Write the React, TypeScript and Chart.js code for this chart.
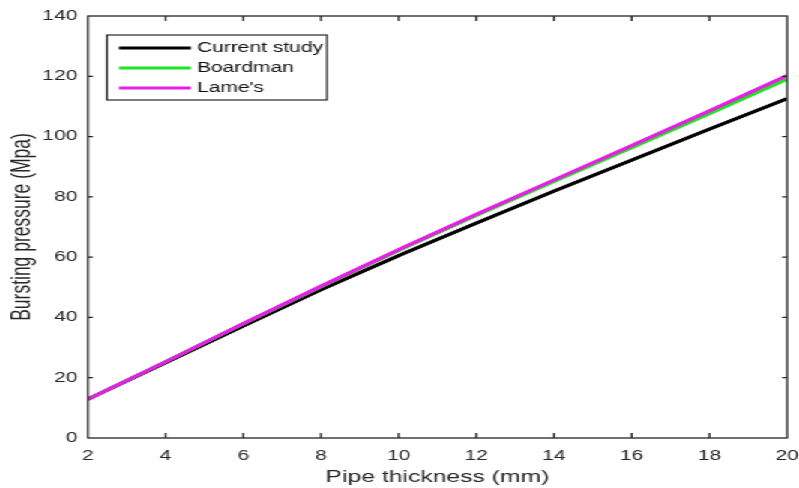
import React, { useEffect, useRef } from "react";
import { Chart, registerables } from "chart.js";

Chart.register(...registerables);

// Pipe thickness (mm) and bursting pressure (MPa) for each method
const thickness = [2, 4, 6, 8, 10, 12, 14, 16, 18, 20];
const currentStudy = [12.9, 25.0, 37.2, 49.2, 60.5, 71.3, 81.9, 92.2, 102.5, 112.6];
const boardman = [12.9, 25.3, 37.9, 50.2, 62.2, 73.8, 85.1, 96.3, 107.6, 119.1];
const lames = [12.9, 25.3, 38.0, 50.4, 62.5, 74.2, 85.6, 97.0, 108.5, 120.2];

const seriesNames = ["Current study", "Boardman", "Lame's"];
const seriesColors = ["#000000", "#1ee61e", "#e61ee6"];

const xTickValues = [2, 4, 6, 8, 10, 12, 14, 16, 18, 20];
const yTickValues = [0, 20, 40, 60, 80, 100, 120, 140];

const xTitle = "Pipe thickness (mm)";
const yTitle = "Bursting pressure (Mpa)";

// The figure is laid out on a narrower canvas and widened horizontally.
const BASE_W = 533;
const BASE_H = 488;
const SX = 799 / BASE_W;

const FONT = "'Liberation Sans', Arial, Helvetica, sans-serif";
const AXIS_COLOR = "#262626";

// Box around the plot area with inward tick marks on all four sides
const framePlugin = {
  id: "frameBox",
  afterDatasetsDraw(chart: any) {
    const { ctx, chartArea: a, scales } = chart;
    ctx.save();
    ctx.strokeStyle = AXIS_COLOR;
    ctx.lineWidth = 1.3;
    ctx.strokeRect(a.left, a.top, a.right - a.left, a.bottom - a.top);
    const lenV = 5;
    const lenH = 5 / SX;
    ctx.beginPath();
    for (const t of scales.x.ticks) {
      const px = scales.x.getPixelForValue(t.value);
      if (px <= a.left + 1 || px >= a.right - 1) continue;
      ctx.moveTo(px, a.bottom);
      ctx.lineTo(px, a.bottom - lenV);
      ctx.moveTo(px, a.top);
      ctx.lineTo(px, a.top + lenV);
    }
    for (const t of scales.y.ticks) {
      const py = scales.y.getPixelForValue(t.value);
      if (py <= a.top + 1 || py >= a.bottom - 1) continue;
      ctx.moveTo(a.left, py);
      ctx.lineTo(a.left + lenH, py);
      ctx.moveTo(a.right, py);
      ctx.lineTo(a.right - lenH, py);
    }
    ctx.stroke();
    ctx.restore();
  },
};

// Boxed legend in the upper-left corner of the plot area
const legendBoxPlugin = {
  id: "legendBox",
  afterDraw(chart: any) {
    const { ctx, chartArea: a } = chart;
    const bx = a.left + 12.7;
    const by = a.top + 19;
    const bw = 146.7;
    const bh = 65;
    ctx.save();
    ctx.fillStyle = "#ffffff";
    ctx.fillRect(bx, by, bw, bh);
    ctx.strokeStyle = AXIS_COLOR;
    ctx.lineWidth = 1.2;
    ctx.strokeRect(bx, by, bw, bh);
    ctx.font = `14px ${FONT}`;
    ctx.textBaseline = "middle";
    ctx.textAlign = "left";
    chart.data.datasets.forEach((ds: any, i: number) => {
      const y = by + 13 + i * 20;
      ctx.strokeStyle = ds.borderColor;
      ctx.lineWidth = 3;
      ctx.beginPath();
      ctx.moveTo(bx + 8, y);
      ctx.lineTo(bx + 56, y);
      ctx.stroke();
      ctx.fillStyle = "#111111";
      ctx.fillText(ds.label, bx + 60, y + 0.5);
    });
    ctx.restore();
  },
};

export default function App() {
  const canvasRef = useRef<HTMLCanvasElement | null>(null);

  useEffect(() => {
    if (!canvasRef.current) return;
    const values = [currentStudy, boardman, lames];
    const chart = new Chart(canvasRef.current, {
      type: "line",
      data: {
        datasets: values.map((vals, i) => ({
          label: seriesNames[i],
          data: thickness.map((x, j) => ({ x, y: vals[j] })),
          borderColor: seriesColors[i],
          backgroundColor: seriesColors[i],
          borderWidth: 3.2,
          pointRadius: 0,
          tension: 0,
          fill: false,
          order: values.length - 1 - i,
        })),
      },
      options: {
        animation: false,
        responsive: true,
        maintainAspectRatio: false,
        layout: { padding: { left: 0, right: BASE_W - 787 / SX, top: 16, bottom: 0 } },
        plugins: {
          legend: { display: false },
          tooltip: { enabled: false },
        },
        scales: {
          x: {
            type: "linear",
            min: 2,
            max: 20,
            grid: { display: false, drawTicks: false },
            border: { display: false },
            afterBuildTicks: (s: any) => {
              s.ticks = xTickValues.map((v) => ({ value: v }));
            },
            afterFit: (s: any) => {
              s.height = 50;
              s.paddingLeft = 0;
              s.paddingRight = 0;
            },
            ticks: {
              padding: 10,
              color: AXIS_COLOR,
              font: { family: FONT, size: 14 },
              maxRotation: 0,
              callback: (v: any) => String(v),
            },
            title: {
              display: true,
              text: xTitle,
              color: AXIS_COLOR,
              font: { family: FONT, size: 16.5 },
              padding: { top: 0, bottom: 1 },
            },
          },
          y: {
            type: "linear",
            min: 0,
            max: 140,
            grid: { display: false, drawTicks: false },
            border: { display: false },
            afterBuildTicks: (s: any) => {
              s.ticks = yTickValues.map((v) => ({ value: v }));
            },
            afterFit: (s: any) => {
              s.width = 88 / SX;
              s.paddingTop = 0;
              s.paddingBottom = 0;
            },
            ticks: {
              padding: 7,
              color: AXIS_COLOR,
              font: { family: FONT, size: 14 },
              callback: (v: any) => String(v),
            },
            title: {
              display: true,
              text: yTitle,
              color: AXIS_COLOR,
              font: { family: FONT, size: 17.5 },
              padding: { top: 5, bottom: 0 },
            },
          },
        },
      },
      plugins: [framePlugin, legendBoxPlugin],
    });
    return () => chart.destroy();
  }, []);

  return (
    <div
      style={{
        position: "fixed",
        left: 0,
        top: 0,
        width: BASE_W,
        height: BASE_H,
        background: "#ffffff",
        transform: `scaleX(${SX})`,
        transformOrigin: "0 0",
      }}
    >
      <canvas ref={canvasRef} />
    </div>
  );
}
